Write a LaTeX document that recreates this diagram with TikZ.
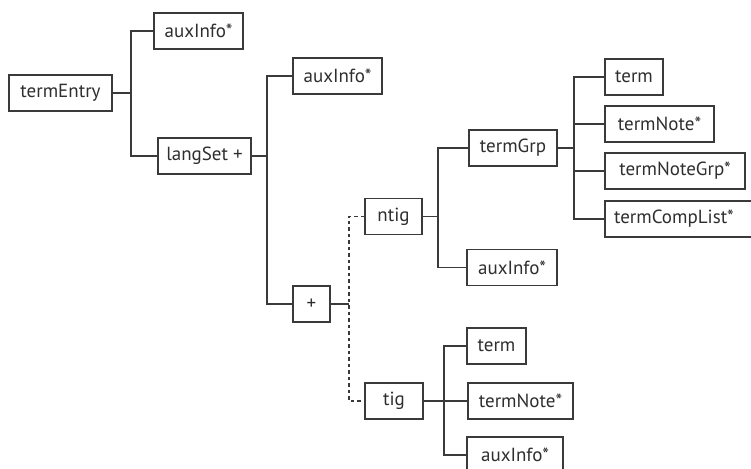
\documentclass[tikz,border=0pt]{standalone}
\usepackage{fontspec}
\setmainfont{PT Sans}
\definecolor{ln}{HTML}{3A3A3A}
\definecolor{tx}{HTML}{2E2E2E}
\begin{document}
\begin{tikzpicture}[x=1pt,y=-1pt,
  box/.style={draw=ln, line width=1.7pt, minimum height=36pt, inner sep=0pt,
    font=\fontsize{19}{19}\selectfont, text=tx},
  conn/.style={draw=ln, line width=1.7pt},
  dconn/.style={draw=ln, line width=1.7pt, dash pattern=on 3.5pt off 3pt}]
\useasboundingbox (0,0) rectangle (751,468);
% nodes
\node[box, minimum width=103pt] (te) at (60.5,93) {termEntry};
\node[box, minimum width=89pt] (a1) at (198.5,31) {auxInfo*};
\node[box, minimum width=93pt] (ls) at (204.5,156) {langSet +};
\node[box, minimum width=89pt] (a2) at (337.5,76) {auxInfo*};
\node[box, minimum width=37pt] (plus) at (311.5,304) {+};
\node[box, minimum width=57pt] (ntig) at (393.5,216.5) {ntig};
\node[box, minimum width=58pt] (tig) at (394,401) {tig};
\node[box, minimum width=88pt] (tg) at (513,148) {termGrp};
\node[box, minimum width=90pt] (a3) at (512,267.5) {auxInfo*};
\node[box, minimum width=58pt] (t1) at (634,77) {term};
\node[box, minimum width=109pt] (tn1) at (659.5,124) {termNote*};
\node[box, minimum width=140pt] (tng) at (675,171) {termNoteGrp*};
\node[box, minimum width=153pt, text width=135pt, align=left] (tcl) at (681.5,219) {termCompList*};
\node[box, minimum width=59pt] (t2) at (496.5,346) {term};
\node[box, minimum width=105pt] (tn2) at (520.5,401) {termNote*};
\node[box, minimum width=96pt] (a4) at (515,455) {auxInfo*};
% junctions
\coordinate (j1) at (131,93);
\coordinate (j2) at (267,156);
\coordinate (j3) at (349,304);
\coordinate (j4) at (438,216.5);
\coordinate (j5) at (574,148);
\coordinate (j6) at (444,401);
% connectors
\draw[conn] (te.east) -- (j1);
\draw[conn] (a1.west) -| (j1) |- (ls.west);
\draw[conn] (ls.east) -- (j2);
\draw[conn] (a2.west) -| (j2) |- (plus.west);
\draw[conn] (plus.east) -- (j3);
\draw[dconn] (ntig.west) -| (j3) |- (tig.west);
\draw[conn] (ntig.east) -- (j4);
\draw[conn] (tg.west) -| (j4) |- (a3.west);
\draw[conn] (tg.east) -- (j5);
\draw[conn] (t1.west) -| (j5) |- (tcl.west);
\draw[conn] (j5 |- tn1.west) -- (tn1.west);
\draw[conn] (j5 |- tng.west) -- (tng.west);
\draw[conn] (tig.east) -- (j6);
\draw[conn] (t2.west) -| (j6) |- (a4.west);
\draw[conn] (j6) -- (tn2.west);
\end{tikzpicture}
\end{document}
